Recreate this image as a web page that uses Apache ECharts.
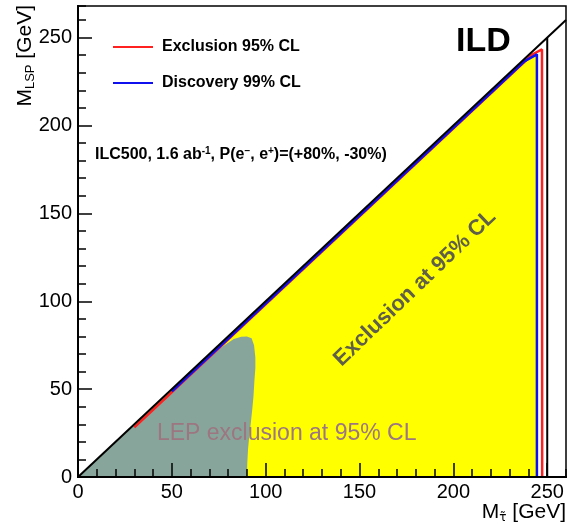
<!DOCTYPE html>
<html><head><meta charset="utf-8">
<script src="https://cdn.jsdelivr.net/npm/echarts@6/dist/echarts.min.js"></script>
<style>html,body{margin:0;padding:0;background:#fff}#c{width:571px;height:529px}</style>
</head><body><div id="c"></div>
<script>
// ---- data ----
const xRange = [0, 260];
const yRange = [0, 268];
const xTickLabels = [0, 50, 100, 150, 200, 250];
const yTickLabels = [0, 50, 100, 150, 200, 250];
const lepRegion = [[0,0],[72,70.8],[78,75],[83,78.5],[87,79.8],[90,80],[92.5,79],[93.8,75],[94.5,68],[94.5,62],[94,55],[93.5,46],[92.8,38],[92,30],[91.3,24],[90.6,16],[90.2,8],[90,0]];
const exclusionRegion = [[0,0],[238.5,237.2],[244.5,240.5],[244.5,0]];
const exclusionLine = [[30,28.2],[242,240.4],[247.2,243.3],[247.3,0]];
const discoveryLine = [[50,48.7],[238,236.6],[244.5,240.5],[244.5,0]];
const diagonal = [[0,0],[260,260]];
const kinematicLimit = [[250,0],[250,250]];
const legendNames = ['Exclusion 95% CL', 'Discovery 99% CL'];

const FONT = "'Liberation Sans', Arial, Helvetica, sans-serif";
const chart = echarts.init(document.getElementById('c'), null, {renderer: 'canvas'});

function polySeries(name, pts, color, z) {
  return {
    type: 'custom', name: name, xAxisIndex: 0, yAxisIndex: 0, z: z, silent: true, clip: true,
    data: [0],
    renderItem: function (params, api) {
      return { type: 'polygon', shape: { points: pts.map(p => api.coord(p)) }, style: { fill: color } };
    }
  };
}
function lineSeries(name, pts, color, width, z) {
  return {
    type: 'line', name: name, xAxisIndex: 0, yAxisIndex: 0, z: z, data: pts,
    symbol: 'none', showSymbol: false, silent: true, animation: false,
    lineStyle: { color: color, width: width }, itemStyle: { color: color }
  };
}

const minorAxisCommon = {
  type: 'value', axisLine: { show: true, lineStyle: { color: '#000', width: 2 } },
  axisLabel: { show: false }, splitLine: { show: false }, z: 10
};
const majorAxisLabel = (ticks) => ({
  show: true, color: '#000', fontFamily: FONT, fontSize: 20, showMaxLabel: false,
  formatter: v => ticks.indexOf(v) >= 0 ? String(v) : ''
});

const option = {
  animation: false,
  backgroundColor: '#fff',
  grid: { left: 78, right: 5, top: 6, bottom: 52, show: true, borderColor: '#000', borderWidth: 1.5, backgroundColor: 'transparent' },
  xAxis: [
    Object.assign({}, minorAxisCommon, { position: 'bottom', min: xRange[0], max: xRange[1], interval: 10,
      axisTick: { show: true, inside: true, length: 8, lineStyle: { color: '#000', width: 1.5 } } }),
    Object.assign({}, minorAxisCommon, { position: 'bottom', min: xRange[0], max: xRange[1], interval: 50,
      axisTick: { show: true, inside: true, length: 14, lineStyle: { color: '#000', width: 1.5 } },
      axisLabel: Object.assign(majorAxisLabel(xTickLabels), { margin: 5 }) })
  ],
  yAxis: [
    Object.assign({}, minorAxisCommon, { position: 'left', min: yRange[0], max: yRange[1], interval: 10,
      axisTick: { show: true, inside: true, length: 8, lineStyle: { color: '#000', width: 1.5 } } }),
    Object.assign({}, minorAxisCommon, { position: 'left', min: yRange[0], max: yRange[1], interval: 50,
      axisTick: { show: true, inside: true, length: 14, lineStyle: { color: '#000', width: 1.5 } },
      axisLabel: Object.assign(majorAxisLabel(yTickLabels), { margin: 6 }) })
  ],
  legend: {
    data: legendNames, orient: 'vertical', left: 113, top: 38, padding: 0, itemGap: 18,
    itemWidth: 40, itemHeight: 2, icon: 'rect', selectedMode: false,
    textStyle: { fontFamily: FONT, fontWeight: 'bold', fontSize: 16, color: '#000', lineHeight: 18, padding: [0, 0, 0, 4] }
  },
  series: [
    polySeries('exclusionRegion', exclusionRegion, '#ffff00', 1),
    polySeries('lepRegion', lepRegion, '#88a59c', 2),
    lineSeries(legendNames[0], exclusionLine, '#ff2020', 2.5, 4),
    lineSeries(legendNames[1], discoveryLine, '#1010ee', 2.5, 5),
    lineSeries('diagonal', diagonal, '#000', 2, 6),
    lineSeries('kinematic', kinematicLimit, '#000', 2, 6)
  ],
  graphic: [
    { type: 'text', x: 483.5, y: 41.5, z: 20, style: { text: 'ILD', font: "bold 34px " + FONT, fill: '#000', align: 'center', verticalAlign: 'middle' } },
    { type: 'text', x: 95, y: 155, z: 20, style: {
      text: '{m|ILC500, 1.6 ab}{s|-1}{m|, P(e}{s|\u2212}{m|, e}{s|+}{m|)=(+80%, -30%)}',
      align: 'left', verticalAlign: 'middle',
      rich: {
        m: { fontFamily: FONT, fontWeight: 'bold', fontSize: 16, lineHeight: 18, fill: '#000', color: '#000' },
        s: { fontFamily: FONT, fontWeight: 'bold', fontSize: 10, lineHeight: 10, verticalAlign: 'top', fill: '#000', color: '#000' }
      } } },
    { type: 'text', x: 415, y: 288, rotation: 0.765, z: 20, style: { text: 'Exclusion at 95% CL', font: "bold 22px " + FONT, fill: '#5f5f48', align: 'center', verticalAlign: 'middle' } },
    { type: 'text', x: 286.7, y: 433.3, z: 20, style: { text: 'LEP exclusion at 95% CL', font: "23px " + FONT, fill: '#9c7680', align: 'center', verticalAlign: 'middle' } },
    { type: 'text', x: 25, y: 5, rotation: Math.PI / 2, z: 20, style: {
      text: '{m|M}{s|LSP}{m| [GeV]}', align: 'right', verticalAlign: 'middle',
      rich: {
        m: { fontFamily: FONT, fontSize: 21, lineHeight: 24, fill: '#000', color: '#000' },
        s: { fontFamily: FONT, fontSize: 13, lineHeight: 13, verticalAlign: 'bottom', fill: '#000', color: '#000' }
      } } },
    { type: 'text', x: 566, y: 512, z: 20, style: {
      text: '{m|M}{s|\u03c4\u0303}{m|\u00a0[GeV]}', align: 'right', verticalAlign: 'middle',
      rich: {
        m: { fontFamily: FONT, fontSize: 21, lineHeight: 24, fill: '#000', color: '#000' },
        s: { fontFamily: "'DejaVu Sans', sans-serif", fontSize: 12, lineHeight: 14, verticalAlign: 'bottom', fill: '#000', color: '#000' }
      } } }
  ]
};
chart.setOption(option);
</script></body></html>
